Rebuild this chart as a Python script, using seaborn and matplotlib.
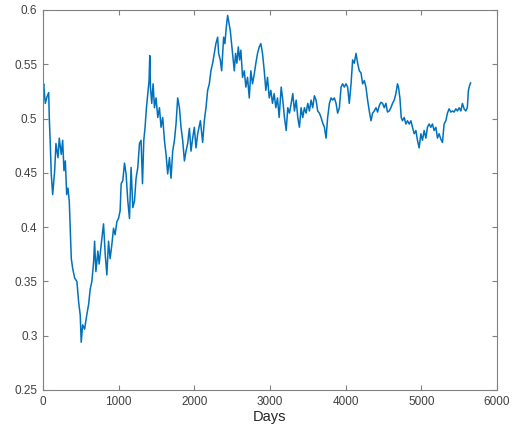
import matplotlib
matplotlib.use("Agg")
import matplotlib.pyplot as plt
import seaborn as sns
import pandas as pd

# Daily series: day index and value
days = [
    0, 9, 30, 53, 75, 83, 96, 109, 128, 154, 171, 198, 215, 241, 260, 277, 295,
    313, 330, 347, 361, 374, 392, 419, 448, 471, 492, 505, 524, 550, 571, 603,
    624, 646, 669, 682, 699, 725, 742, 769, 800, 822, 844, 866, 887, 910, 932,
    953, 976, 998, 1019, 1033,
    1055, 1077, 1098, 1121, 1143, 1164, 1187, 1209, 1230, 1253, 1275, 1296,
    1315, 1332, 1349, 1367, 1385, 1402, 1411, 1420, 1437, 1455, 1473, 1494,
    1517, 1539, 1560, 1582, 1605, 1626, 1648, 1671, 1692, 1714, 1737, 1758,
    1780, 1803, 1824, 1846, 1869, 1890, 1912, 1935, 1956, 1978, 2000, 2022, 2044,
    2080, 2110, 2132, 2154, 2176, 2198, 2219, 2242, 2264, 2285, 2308, 2321,
    2343, 2361, 2387, 2404, 2422, 2440, 2457, 2475, 2492, 2510, 2528, 2545,
    2562, 2581, 2598, 2615, 2637, 2660, 2681, 2703, 2726, 2747, 2769, 2792,
    2813, 2835, 2858, 2879, 2901, 2924, 2945, 2967, 2990, 3011, 3033, 3055,
    3077, 3099,
    3121, 3148, 3169, 3191, 3214, 3235, 3257, 3280, 3301, 3323, 3346, 3367,
    3389, 3411, 3433, 3455, 3477, 3499, 3521, 3543, 3564, 3587, 3609, 3630,
    3653, 3675, 3696, 3719, 3741, 3762, 3785, 3807, 3828, 3851, 3873, 3894,
    3917, 3939, 3960, 3982, 4005, 4026, 4048, 4071, 4092, 4114, 4137, 4158, 4180,
    4203, 4224, 4246, 4268, 4290, 4312, 4335, 4356, 4378, 4401, 4422, 4444,
    4466, 4488, 4510, 4532, 4553, 4576, 4598, 4619, 4642, 4664, 4685, 4698,
    4717, 4734, 4751, 4774, 4796, 4817, 4840, 4862, 4883, 4906, 4928, 4949,
    4971, 4994, 5015, 5037, 5060, 5081,
    5103, 5126, 5147, 5169, 5192, 5213, 5235, 5258, 5279, 5301, 5324, 5345,
    5367, 5390, 5411, 5433, 5456, 5477, 5499, 5522, 5543, 5565, 5587, 5608,
    5622, 5640, 5653,
]

values = [
    .528, .532, .514, .520, .524, .501, .477, .449, .430, .452, .477, .464, .482,
    .467, .480, .452, .461, .430, .436, .424, .396, .371, .362, .353, .350, .331,
    .319, .294, .310, .306, .316, .329, .343, .350, .368, .387, .359, .378, .366,
    .384, .403, .375, .356, .387, .371, .384, .399, .393, .405, .408, .415, .440,
    .443, .459, .449, .424, .408, .455, .418, .424, .445, .455, .477, .480, .440,
    .480, .492, .510, .523, .535, .558, .529, .514, .532, .510, .519, .501, .510,
    .492, .501, .480, .467, .449, .464, .445, .470, .480, .495, .519, .510, .492,
    .480, .461, .470, .477, .491, .470, .482, .492, .473, .486,
    .498, .478, .498, .510, .526, .532, .544, .551, .560, .569, .575, .560, .554,
    .544, .575, .569, .584, .595, .588, .581, .569, .556, .544, .560, .551, .566,
    .554, .563, .538, .544, .529, .538, .519, .544, .532, .541, .551, .560, .566,
    .569, .560, .544, .526, .538, .519, .526, .514, .523, .510, .519,
    .501, .529, .517, .501, .489, .510, .505, .514, .523, .507, .517, .501, .492,
    .510, .501, .510, .505, .514, .507, .517, .510, .521, .517, .507, .505, .501,
    .496, .492, .482, .501, .514, .519, .517, .519, .514, .505, .510, .529, .532,
    .529, .532, .529, .514, .532, .554, .551, .560, .551, .544,
    .542, .532, .535, .529, .517, .507, .498, .505, .507, .510, .506, .512, .515,
    .514, .510, .514, .506, .507, .510, .514, .517, .523, .532, .529, .519, .501,
    .498, .501, .495, .498, .495, .498, .492, .486, .489, .480, .473, .486, .480,
    .489, .482, .492,
    .495, .492, .495, .489, .492, .482, .486, .481, .478, .495, .498, .505, .509,
    .506, .507, .506, .509, .507, .510, .507, .514, .509, .507, .510, .526, .531,
    .533,
]

x_ticks = [0, 1000, 2000, 3000, 4000, 5000, 6000]
y_ticks = [0.25, 0.3, 0.35, 0.4, 0.45, 0.5, 0.55, 0.6]
y_tick_labels = ["0.25", "0.3", "0.35", "0.4", "0.45", "0.5", "0.55", "0.6"]

df = pd.DataFrame({"Days": days, "Value": values})

sns.set_style("white")
plt.rcParams["font.family"] = ["Liberation Sans", "DejaVu Sans"]

fig = plt.figure(figsize=(5.18, 4.36), dpi=100)
ax = fig.add_axes([43 / 518, 1 - 390 / 436, 454 / 518, 380 / 436])

sns.lineplot(data=df, x="Days", y="Value", ax=ax, color="#0072BD",
             linewidth=1.1, estimator=None, sort=False)

ax.set_xlim(0, 6000)
ax.set_ylim(0.25, 0.6)
ax.set_xticks(x_ticks)
ax.set_xticklabels([str(t) for t in x_ticks])
ax.set_yticks(y_ticks)
ax.set_yticklabels(y_tick_labels)
ax.set_xlabel("Days", fontsize=10.5, color="#262626", labelpad=2)
ax.set_ylabel("")

axis_grey = "#808080"
for side in ["left", "right", "top", "bottom"]:
    ax.spines[side].set_visible(True)
    ax.spines[side].set_color(axis_grey)
    ax.spines[side].set_linewidth(0.8)
ax.tick_params(axis="both", which="both", direction="in", length=3.5,
               width=0.8, color=axis_grey, labelsize=8.5, labelcolor="#404040",
               top=True, right=True, bottom=True, left=True, pad=4)

fig.savefig("out.png", dpi=100)
